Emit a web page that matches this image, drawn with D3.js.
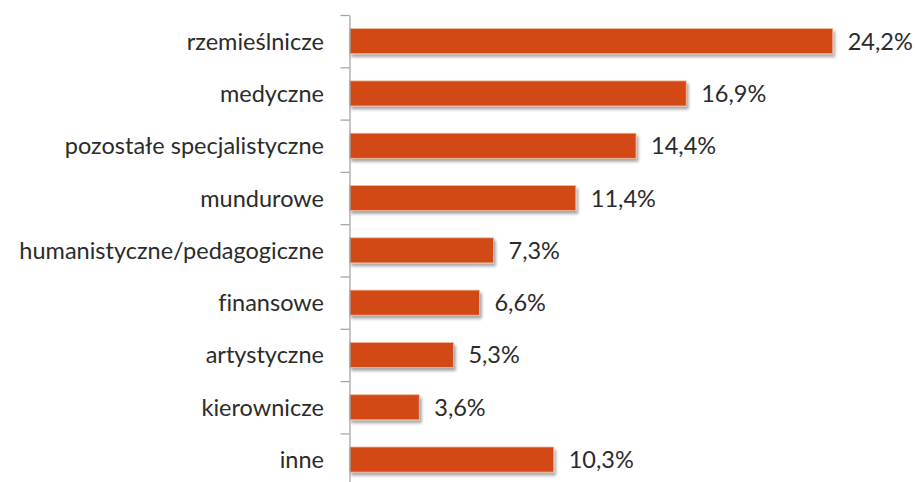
<!DOCTYPE html>
<html>
<head>
<meta charset="utf-8">
<script src="https://cdn.jsdelivr.net/npm/d3@7"></script>
<style>
  body { margin: 0; background: #fff; }
  svg { display: block; font-family: Lato, "Open Sans", sans-serif; font-variant-ligatures: none; }
</style>
</head>
<body>
<svg id="chart" width="916" height="482"></svg>
<script>
// kategorie i udziały (%)
const categories = ["rzemieślnicze", "medyczne", "pozostałe specjalistyczne", "mundurowe",
  "humanistyczne/pedagogiczne", "finansowe", "artystyczne", "kierownicze", "inne"];
const values = [24.2, 16.9, 14.4, 11.4, 7.3, 6.6, 5.3, 3.6, 10.3];
const valueLabels = ["24,2%", "16,9%", "14,4%", "11,4%", "7,3%", "6,6%", "5,3%", "3,6%", "10,3%"];

const data = categories.map((c, i) => ({ cat: c, value: values[i], label: valueLabels[i] }));

const svg = d3.select("#chart");
const plotTop = 15, step = 52.3;
const axisX = 349.5;

const x = d3.scaleLinear().domain([0, 25]).range([347, 848.8]);
const y = d3.scaleBand()
  .domain(categories)
  .range([plotTop, plotTop + step * categories.length])
  .paddingInner(0.52)
  .paddingOuter(0.26);

// shadow
const defs = svg.append("defs");
const f = defs.append("filter").attr("id", "shadow")
  .attr("x", "-5%").attr("y", "-30%").attr("width", "115%").attr("height", "180%");
f.append("feDropShadow").attr("dx", 2).attr("dy", 3).attr("stdDeviation", 1.5)
  .attr("flood-color", "#000").attr("flood-opacity", 0.35);

// bars
svg.selectAll(".bar")
  .data(data)
  .enter()
  .append("rect")
  .attr("class", "bar")
  .attr("x", axisX)
  .attr("y", d => y(d.cat))
  .attr("width", d => x(d.value) - axisX)
  .attr("height", y.bandwidth())
  .attr("fill", "#d24a18")
  .attr("stroke", "#f3b89a")
  .attr("stroke-width", 0.8)
  .attr("filter", "url(#shadow)");

// value labels
svg.selectAll(".val")
  .data(data)
  .enter()
  .append("text")
  .attr("class", "val")
  .attr("x", d => x(d.value) + 15)
  .attr("y", d => y(d.cat) + y.bandwidth() / 2)
  .attr("dy", "0.36em")
  .attr("font-size", 23.5)
  .attr("fill", "#2b2b2b")
  .text(d => d.label);

// category labels
svg.selectAll(".cat")
  .data(data)
  .enter()
  .append("text")
  .attr("class", "cat")
  .attr("x", 324)
  .attr("y", d => y(d.cat) + y.bandwidth() / 2)
  .attr("dy", "0.36em")
  .attr("text-anchor", "end")
  .attr("font-size", 23.5)
  .attr("fill", "#2b2b2b")
  .text(d => d.cat);

// axis with ticks at band boundaries
const yIdx = d3.scaleLinear().domain([0, categories.length]).range(y.range());
const axis = svg.append("g")
  .attr("transform", `translate(${axisX},0)`)
  .call(d3.axisLeft(yIdx).tickValues(d3.range(categories.length + 1))
    .tickFormat("").tickSize(9).tickSizeOuter(0));
axis.selectAll("line, path").attr("stroke", "#a6a6a6").attr("stroke-width", 1.3);
</script>
</body>
</html>
